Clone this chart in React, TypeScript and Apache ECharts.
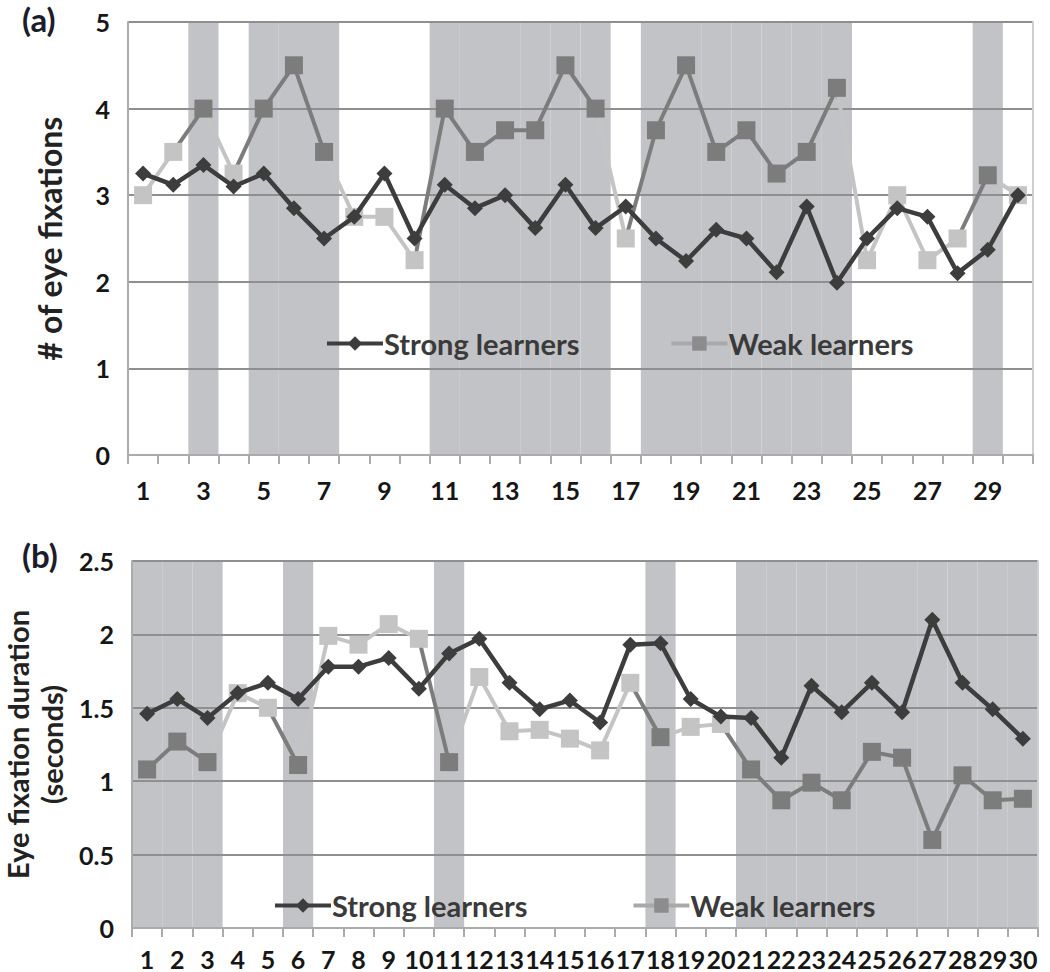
import React, { useEffect, useRef } from "react";
import * as echarts from "echarts";

const categories = ["1","2","3","4","5","6","7","8","9","10","11","12","13","14","15","16","17","18","19","20","21","22","23","24","25","26","27","28","29","30"];

// Panel (a): # of eye fixations
const strongA = [3.25, 3.12, 3.35, 3.1, 3.25, 2.85, 2.5, 2.75, 3.25, 2.5, 3.12, 2.85, 3.0, 2.62, 3.12, 2.62, 2.87, 2.5, 2.24, 2.6, 2.5, 2.11, 2.87, 1.99, 2.5, 2.85, 2.75, 2.1, 2.37, 3.0];
const weakA = [3.0, 3.5, 4.0, 3.25, 4.0, 4.5, 3.5, 2.75, 2.75, 2.25, 4.0, 3.5, 3.75, 3.75, 4.5, 4.0, 2.5, 3.75, 4.5, 3.5, 3.75, 3.25, 3.5, 4.24, 2.25, 3.0, 2.25, 2.5, 3.23, 3.0];
const bandCatsA = [3, 5, 6, 7, 11, 12, 13, 14, 15, 16, 18, 19, 20, 21, 22, 23, 24, 29];
const maxA = 5;

// Panel (b): eye fixation duration (seconds)
const strongB = [1.46, 1.56, 1.43, 1.6, 1.67, 1.56, 1.78, 1.78, 1.84, 1.63, 1.87, 1.97, 1.67, 1.49, 1.55, 1.4, 1.93, 1.94, 1.56, 1.44, 1.43, 1.16, 1.65, 1.47, 1.67, 1.47, 2.1, 1.67, 1.49, 1.29];
const weakB = [1.08, 1.27, 1.13, 1.6, 1.5, 1.11, 1.99, 1.93, 2.07, 1.97, 1.13, 1.71, 1.34, 1.35, 1.29, 1.21, 1.67, 1.3, 1.37, 1.39, 1.08, 0.87, 0.99, 0.87, 1.2, 1.16, 0.6, 1.04, 0.87, 0.88];
const bandCatsB = [1, 2, 3, 6, 11, 18, 21, 22, 23, 24, 25, 26, 27, 28, 29, 30];
const maxB = 2.5;

const seriesNames = ["Strong learners", "Weak learners"];

const FONT = "Lato, 'Open Sans', 'DejaVu Sans', sans-serif";
const BAND = "#c2c3c6";
const STRONG = "#3d3d3d";
const WEAK_DARK = "#7c7c7c";
const WEAK_LIGHT = "#c4c4c4";
const GRID_LINE = "#8f8f8f";
const AXIS_LINE = "#ababab";
const LABEL = "#161616";

function bandData(cats: number[], top: number) {
  return categories.map((_, i) => (cats.includes(i + 1) ? top : "-"));
}
function pieces(cats: number[]) {
  return cats.map((c) => ({ gt: c - 2, lte: c - 1, color: WEAK_DARK }));
}

function xAxis(gridIndex: number, labelInterval: number, fontSize: number, margin: number) {
  return {
    type: "category",
    gridIndex,
    data: categories,
    boundaryGap: true,
    axisLine: { show: true, lineStyle: { color: AXIS_LINE, width: 2 } },
    axisTick: { show: true, interval: 0, length: 9, lineStyle: { color: AXIS_LINE, width: 2 } },
    axisLabel: { interval: labelInterval, fontFamily: FONT, fontWeight: "bold", fontSize, color: LABEL, margin },
    splitLine: { show: false },
  };
}

function yAxis(gridIndex: number, max: number, interval: number, name: string, nameGap: number, nameSize: number, nameLineHeight: number) {
  return {
    type: "value",
    gridIndex,
    min: 0,
    max,
    interval,
    name,
    nameLocation: "middle",
    nameRotate: 90,
    nameGap,
    nameTextStyle: { fontFamily: FONT, fontWeight: "bold", fontSize: nameSize, color: "#222", lineHeight: nameLineHeight },
    axisLine: { show: true, lineStyle: { color: AXIS_LINE, width: 2 } },
    axisTick: { show: false },
    axisLabel: { fontFamily: FONT, fontWeight: "bold", fontSize: 25, color: LABEL, margin: 18 },
    splitLine: { show: true, lineStyle: { color: GRID_LINE, width: 2 } },
  };
}

function rightBorder(gridIndex: number, max: number) {
  return {
    type: "value",
    gridIndex,
    position: "right",
    min: 0,
    max,
    axisLine: { show: true, lineStyle: { color: "#cfcfcf", width: 2 } },
    axisTick: { show: false },
    axisLabel: { show: false },
    splitLine: { show: false },
  };
}

function legend(left: number, top: number, gap: number) {
  return {
    left,
    top,
    orient: "horizontal",
    selectedMode: false,
    itemWidth: 56,
    itemHeight: 18,
    itemGap: gap,
    textStyle: { fontFamily: FONT, fontWeight: "bold", fontSize: 29, color: "#3a3a3a", padding: [0, 0, 0, -4] },
    data: [
      { name: seriesNames[0], itemStyle: { color: STRONG }, lineStyle: { color: STRONG, width: 4 } },
      { name: seriesNames[1], itemStyle: { color: "#8c8c8c" }, lineStyle: { color: "#a9a9a9", width: 4 } },
    ],
  };
}

export default function App() {
  const ref = useRef<HTMLDivElement>(null);

  useEffect(() => {
    if (!ref.current) return;
    const chart = echarts.init(ref.current, undefined, { renderer: "svg" });

    const option: any = {
      animation: false,
      backgroundColor: "#ffffff",
      grid: [
        { left: 128, top: 22, width: 905, height: 433, outerBoundsMode: "none", containLabel: false },
        { left: 132, top: 561, width: 906, height: 367, outerBoundsMode: "none", containLabel: false },
      ],
      xAxis: [xAxis(0, 1, 25, 22), xAxis(1, 0, 25, 18)],
      yAxis: [
        yAxis(0, maxA, 1, "# of eye fixations", 60, 32, 37),
        rightBorder(0, maxA),
        yAxis(1, maxB, 0.5, "Eye fixation duration\n(seconds)", 62, 29, 34),
        rightBorder(1, maxB),
      ],
      legend: [legend(320, 324, 90), legend(268, 886, 104)],
      visualMap: [
        { type: "piecewise", show: false, seriesIndex: 2, dimension: 0, pieces: pieces(bandCatsA), outOfRange: { color: WEAK_LIGHT } },
        { type: "piecewise", show: false, seriesIndex: 5, dimension: 0, pieces: pieces(bandCatsB), outOfRange: { color: WEAK_LIGHT } },
      ],
      graphic: [
        { type: "text", left: 22, top: 2, style: { text: "(a)", fontFamily: FONT, fontWeight: "bold", fontSize: 33, fill: "#1c1c2c" } },
        { type: "text", left: 22, top: 538, style: { text: "(b)", fontFamily: FONT, fontWeight: "bold", fontSize: 33, fill: "#1c1c2c" } },
      ],
      series: [
        {
          name: "bandsA",
          type: "bar",
          xAxisIndex: 0,
          yAxisIndex: 0,
          data: bandData(bandCatsA, maxA),
          barWidth: "100%",
          barCategoryGap: "0%",
          itemStyle: { color: BAND },
          z: -1,
          silent: true,
        },
        {
          name: seriesNames[0],
          type: "line",
          xAxisIndex: 0,
          yAxisIndex: 0,
          data: strongA,
          symbol: "diamond",
          symbolSize: 16,
          itemStyle: { color: STRONG },
          lineStyle: { color: STRONG, width: 4.5 },
          z: 4,
        },
        {
          name: seriesNames[1],
          type: "line",
          xAxisIndex: 0,
          yAxisIndex: 0,
          data: weakA,
          symbol: "rect",
          symbolSize: 18,
          lineStyle: { width: 4 },
          z: 3,
        },
        {
          name: "bandsB",
          type: "bar",
          xAxisIndex: 1,
          yAxisIndex: 2,
          data: bandData(bandCatsB, maxB),
          barWidth: "100%",
          barCategoryGap: "0%",
          itemStyle: { color: BAND },
          z: -1,
          silent: true,
        },
        {
          name: seriesNames[0],
          type: "line",
          xAxisIndex: 1,
          yAxisIndex: 2,
          data: strongB,
          symbol: "diamond",
          symbolSize: 16,
          itemStyle: { color: STRONG },
          lineStyle: { color: STRONG, width: 4.5 },
          z: 4,
        },
        {
          name: seriesNames[1],
          type: "line",
          xAxisIndex: 1,
          yAxisIndex: 2,
          data: weakB,
          symbol: "rect",
          symbolSize: 18,
          lineStyle: { width: 4 },
          z: 3,
        },
      ],
    };

    chart.setOption(option);
    return () => chart.dispose();
  }, []);

  return (
    <div
      ref={ref}
      style={{ position: "absolute", left: 0, top: 0, width: 1050, height: 972, background: "#fff" }}
    />
  );
}
